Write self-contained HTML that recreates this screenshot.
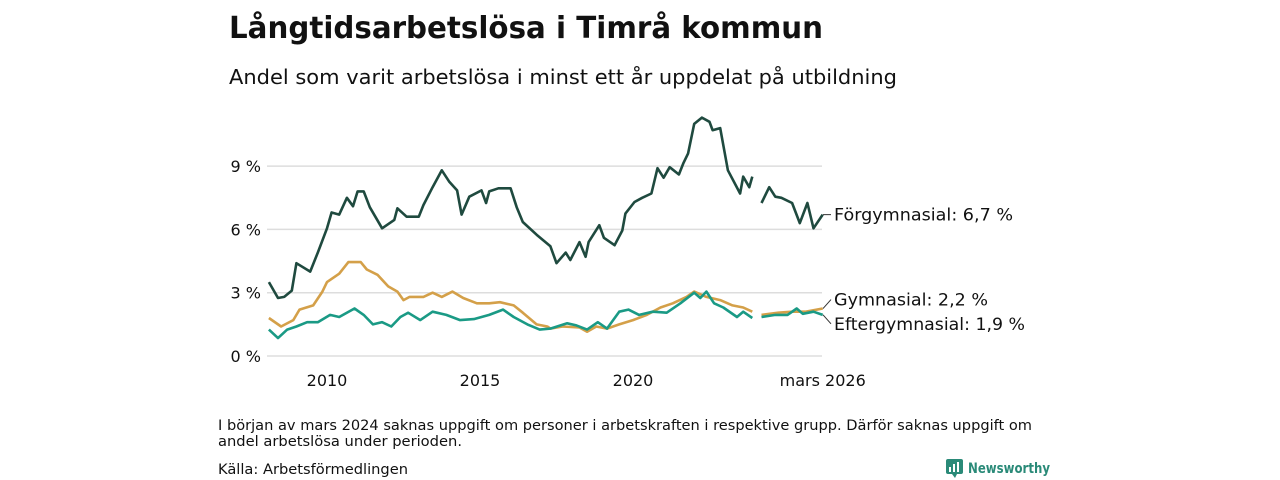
<!DOCTYPE html>
<html><head><meta charset="utf-8"><style>
body{margin:0;background:#fff;font-family:"DejaVu Sans","Liberation Sans",sans-serif;}
#c{position:relative;width:1280px;height:480px;overflow:hidden}
text{font-family:"DejaVu Sans","Liberation Sans",sans-serif;}
</style></head><body>
<div id="c">
<svg id="s" width="1280" height="480">
<text x="229" y="38" font-size="30" font-weight="bold" fill="#111" textLength="594" lengthAdjust="spacingAndGlyphs">Långtidsarbetslösa i Timrå kommun</text>
<text x="229" y="84" font-size="20" fill="#111" textLength="668" lengthAdjust="spacingAndGlyphs">Andel som varit arbetslösa i minst ett år uppdelat på utbildning</text>
<g id="grid"></g><g id="lines"></g><g id="labels"></g>
<text x="218" y="430" font-size="14" fill="#111" textLength="814" lengthAdjust="spacingAndGlyphs">I början av mars 2024 saknas uppgift om personer i arbetskraften i respektive grupp. Därför saknas uppgift om</text>
<text x="218" y="446" font-size="14" fill="#111" textLength="244" lengthAdjust="spacingAndGlyphs">andel arbetslösa under perioden.</text>
<text x="218" y="474" font-size="14" fill="#111" textLength="190" lengthAdjust="spacingAndGlyphs">Källa: Arbetsförmedlingen</text>
<g>
<rect x="946" y="459" width="17" height="15" rx="2" fill="#2a8a78"/>
<path d="M952,474 L955,478 L957,474Z" fill="#2a8a78"/>
<rect x="949" y="467" width="2" height="5" fill="#fff"/><rect x="953" y="464" width="2" height="8" fill="#fff"/><rect x="957" y="462" width="2" height="10" fill="#fff"/>
<text x="968" y="473" font-size="14" font-weight="bold" fill="#2a8a78" textLength="82" lengthAdjust="spacingAndGlyphs">Newsworthy</text>
</g>
</svg>
</div>
<script>
const fDates=[2008.1,2008.4,2008.6,2008.85,2009.0,2009.45,2009.7,2010.0,2010.15,2010.4,2010.65,2010.85,2011.0,2011.2,2011.4,2011.8,2012.2,2012.3,2012.6,2013.0,2013.15,2013.45,2013.75,2014.0,2014.25,2014.4,2014.65,2015.05,2015.2,2015.3,2015.6,2016.0,2016.2,2016.4,2016.85,2017.3,2017.5,2017.8,2017.95,2018.25,2018.45,2018.55,2018.9,2019.05,2019.4,2019.65,2019.75,2020.05,2020.3,2020.6,2020.8,2021.0,2021.2,2021.5,2021.65,2021.8,2022.0,2022.25,2022.5,2022.6,2022.85,2023.1,2023.5,2023.6,2023.8,2023.9,null,2024.2,2024.45,2024.65,2024.85,2025.2,2025.45,2025.7,2025.9,2026.2];
const fValues=[3.5,2.75,2.8,3.1,4.4,4.0,4.9,6.05,6.8,6.7,7.5,7.1,7.8,7.8,7.05,6.05,6.45,7.0,6.6,6.6,7.15,8.0,8.8,8.25,7.85,6.7,7.55,7.85,7.25,7.8,7.95,7.95,7.05,6.35,5.75,5.2,4.4,4.9,4.55,5.4,4.7,5.4,6.2,5.6,5.25,5.95,6.75,7.3,7.5,7.7,8.9,8.45,8.95,8.6,9.15,9.6,11.0,11.3,11.1,10.7,10.8,8.8,7.7,8.5,8.0,8.5,null,7.25,8.0,7.55,7.5,7.25,6.3,7.25,6.05,6.7];
const gDates=[2008.1,2008.5,2008.9,2009.1,2009.55,2009.85,2010.0,2010.4,2010.7,2011.1,2011.3,2011.65,2012.0,2012.3,2012.5,2012.7,2013.15,2013.45,2013.75,2014.1,2014.45,2014.9,2015.3,2015.65,2016.1,2016.4,2016.85,2017.2,2017.3,2017.7,2018.25,2018.5,2018.8,2019.15,2019.55,2020.0,2020.45,2020.9,2021.3,2021.75,2022.0,2022.4,2022.85,2023.25,2023.6,2023.9,null,2024.2,2024.75,2025.2,2025.65,2026.2];
const gValues=[1.8,1.4,1.7,2.2,2.4,3.05,3.5,3.9,4.45,4.45,4.1,3.85,3.3,3.05,2.65,2.8,2.8,3.0,2.8,3.05,2.75,2.5,2.5,2.55,2.4,2.05,1.5,1.4,1.3,1.4,1.35,1.15,1.4,1.3,1.5,1.7,1.95,2.3,2.5,2.8,3.05,2.8,2.65,2.4,2.3,2.1,null,1.95,2.05,2.1,2.1,2.25];
const eDates=[2008.1,2008.4,2008.7,2009.0,2009.35,2009.7,2010.1,2010.4,2010.9,2011.2,2011.5,2011.8,2012.1,2012.4,2012.65,2013.05,2013.45,2013.9,2014.35,2014.8,2015.3,2015.75,2016.1,2016.55,2016.95,2017.3,2017.85,2018.15,2018.5,2018.85,2019.15,2019.55,2019.85,2020.2,2020.65,2021.1,2021.55,2022.0,2022.2,2022.4,2022.65,2022.95,2023.4,2023.6,2023.9,null,2024.2,2024.65,2025.05,2025.35,2025.55,2025.9,2026.2];
const eValues=[1.25,0.85,1.25,1.4,1.6,1.6,1.95,1.85,2.25,1.95,1.5,1.6,1.4,1.85,2.05,1.7,2.1,1.95,1.7,1.75,1.95,2.2,1.85,1.5,1.25,1.3,1.55,1.45,1.25,1.6,1.3,2.1,2.2,1.95,2.1,2.05,2.5,3.0,2.75,3.05,2.5,2.3,1.85,2.1,1.8,null,1.85,1.95,1.95,2.25,2.0,2.1,1.95];
const yTicks=[0,3,6,9];
const yTickLabels=["0 %","3 %","6 %","9 %"];
const xTicks=[2010,2015,2020,2026.2];
const xTickLabels=["2010","2015","2020","mars 2026"];
const seriesNames=["Förgymnasial: 6,7 %","Gymnasial: 2,2 %","Eftergymnasial: 1,9 %"];
const labelWidths=[179,154,191];

const NS="http://www.w3.org/2000/svg";
const X=t=>327+(t-2010)*30.6;
const Y=v=>356-v*21.1;
function mk(tag,attrs,parent){const e=document.createElementNS(NS,tag);for(const k in attrs)e.setAttribute(k,attrs[k]);parent.appendChild(e);return e;}
const grid=document.getElementById('grid'),lines=document.getElementById('lines'),labels=document.getElementById('labels');
yTicks.forEach((v,i)=>{
  const l=mk('line',{x1:267,x2:822,y1:Y(v),y2:Y(v),stroke:'#ddd','stroke-width':1.5},grid);
  
  
  const t=mk('text',{x:261,y:Y(v)+6,'font-size':16,'text-anchor':'end',fill:'#111'},grid);
  t.textContent=yTickLabels[i];
  
  
});
xTicks.forEach((v,i)=>{
  const t=mk('text',{x:X(v),y:386,'font-size':16,'text-anchor':'middle',fill:'#111'},grid);
  t.textContent=xTickLabels[i];
  
  
});
function path(d,v){let s='',m=true;for(let i=0;i<d.length;i++){if(d[i]===null){m=true;continue;}s+=(m?'M':'L')+X(d[i]).toFixed(1)+','+Y(v[i]).toFixed(1);m=false;}return s;}
const ser=[[gDates,gValues,'#d4a049','line-gymnasial'],[eDates,eValues,'#1a9a85','line-eftergymnasial'],[fDates,fValues,'#1f4a3f','line-forgymnasial']];
ser.forEach(s=>{
  const p=mk('path',{d:path(s[0],s[1]),fill:'none',stroke:s[2],'stroke-width':2.6,'stroke-linejoin':'round'},lines);
  
  
});
const lastF=fValues[fValues.length-1],lastG=gValues[gValues.length-1],lastE=eValues[eValues.length-1];
const lab=[[lastF,Y(lastF),'label-forgymnasial'],[lastG,Y(lastG)-9,'label-gymnasial'],[lastE,Y(lastE)+9,'label-eftergymnasial']];
lab.forEach((a,i)=>{
  const ln=mk('line',{x1:823,y1:Y(a[0]),x2:831,y2:a[1],stroke:'#333','stroke-width':1},labels);
  
  
  const t=mk('text',{x:834,y:a[1]+6,'font-size':17,fill:'#111',textLength:labelWidths[i],lengthAdjust:'spacingAndGlyphs'},labels);
  t.textContent=seriesNames[i];
  
  
});
</script>
</body></html>
